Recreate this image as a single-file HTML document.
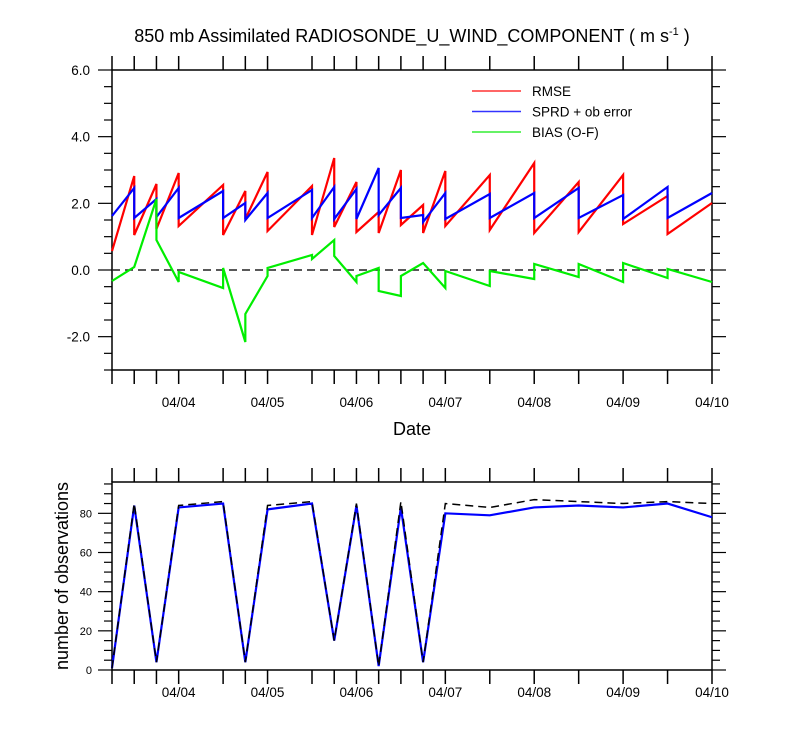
<!DOCTYPE html>
<html><head><meta charset="utf-8"><style>
body{margin:0;background:#fff;}
svg{display:block;font-family:"Liberation Sans",sans-serif;}
</style></head><body>
<svg id="chart" width="800" height="750" viewBox="0 0 800 750"></svg>
<script>
const times=[3.25,3.5,3.75,4.0,4.5,4.75,5.0,5.5,5.75,6.0,6.25,6.5,6.75,7.0,7.5,8.0,8.5,9.0,9.5,10.0];
// sawtooth values: each time has [value arriving, value leaving]
const rmseEnd=[null,2.82,2.58,2.91,2.55,2.37,2.94,2.52,3.36,2.64,1.74,3.0,1.95,2.97,2.85,3.21,2.64,2.85,2.22,2.01];
const rmseStart=[0.57,1.05,1.23,1.32,1.05,1.53,1.17,1.05,1.29,1.14,1.11,1.35,1.11,1.32,1.2,1.11,1.14,1.38,1.08,null];
const sprdEnd=[null,2.46,2.13,2.46,2.37,2.01,2.31,2.40,2.49,2.43,3.06,2.46,1.65,2.31,2.28,2.31,2.46,2.25,2.49,2.31];
const sprdStart=[1.62,1.56,1.59,1.56,1.56,1.50,1.56,1.56,1.53,1.53,1.65,1.56,1.44,1.53,1.56,1.56,1.56,1.53,1.56,null];
const biasEnd=[null,0.09,2.13,-0.36,-0.54,-2.16,-0.18,0.45,0.9,-0.36,0.06,-0.78,0.21,-0.54,-0.48,-0.27,-0.21,-0.36,-0.24,-0.36];
const biasStart=[-0.33,0.09,0.9,-0.06,0.06,-1.32,0.06,0.33,0.42,-0.18,-0.63,-0.18,0.21,-0.03,-0.03,0.18,0.18,0.21,0.03,null];
const obsUsed=[1,84,4,83,85,4,82,85,15,84,2,83,4,80,79,83,84,83,85,78];
const obsTotal=[1,85,4,84,86,4,84,86,15,85,2,86,4,85,83,87,86,85,86,85];
const yTicks=[6,4,2,0,-2];
const yTickLabels=["6.0","4.0","2.0","0.0","-2.0"];
const obsTicks=[0,20,40,60,80];
const dayTicks=[4,5,6,7,8,9,10];
const dayLabels=["04/04","04/05","04/06","04/07","04/08","04/09","04/10"];

const NS="http://www.w3.org/2000/svg";
const svg=document.getElementById('chart');
function el(tag,attrs,parent){const e=document.createElementNS(NS,tag);for(const k in attrs)e.setAttribute(k,attrs[k]);(parent||svg).appendChild(e);return e;}
const X0=112,X1=712,T0=3.25,T1=10;
const xs=t=>X0+(t-T0)/(T1-T0)*(X1-X0);
const TOP=70,BOT=370,YMAX=6,YMIN=-3;
const ys=v=>TOP+(YMAX-v)/(YMAX-YMIN)*(BOT-TOP);
const BT=482,BB=670,BMAX=96,BMIN=0;
const bs=v=>BB-(v-BMIN)/(BMAX-BMIN)*(BB-BT);

function axes(top,bot,name){
  const g=el('g',{});
  
  
  el('rect',{x:X0,y:top,width:X1-X0,height:bot-top,fill:'none',stroke:'#000','stroke-width':1.5},g);
  times.forEach(t=>{const x=xs(t);
    el('line',{x1:x,x2:x,y1:top,y2:top-14,stroke:'#000','stroke-width':1.5},g);
    el('line',{x1:x,x2:x,y1:bot,y2:bot+14,stroke:'#000','stroke-width':1.5},g);});
  return g;
}
function sawPath(ends,starts,scale){
  let d='';
  times.forEach((t,i)=>{const x=xs(t);
    if(ends[i]!==null){d+=(d?'L':'M')+x+' '+scale(ends[i]);}
    if(starts[i]!==null){d+=(d?'L':'M')+x+' '+scale(starts[i]);}
  });
  return d;
}
// title
const title=el('text',{x:412,y:42,'text-anchor':'middle','font-size':18});


title.innerHTML='850 mb Assimilated RADIOSONDE_U_WIND_COMPONENT ( m s<tspan dy="-7" font-size="11">-1</tspan><tspan dy="7"> )</tspan>';

// top panel
const g1=axes(TOP,BOT,'top-panel');
for(let v=YMIN;v<=YMAX;v+=0.5){const y=ys(v);const major=Math.abs(v%2)<1e-9;
  const L=major?14:8;
  el('line',{x1:X0,x2:X0-L,y1:y,y2:y,stroke:'#000','stroke-width':1.2},g1);
  el('line',{x1:X1,x2:X1+L,y1:y,y2:y,stroke:'#000','stroke-width':1.2},g1);}
yTicks.forEach((v,i)=>{const t=el('text',{x:90,y:ys(v)+5,'text-anchor':'end','font-size':13.5},g1);
  
  
  t.textContent=yTickLabels[i];});
dayTicks.forEach((d,i)=>{const t=el('text',{x:xs(d),y:407,'text-anchor':'middle','font-size':13.5},g1);
  
  
  t.textContent=dayLabels[i];});
const xt=el('text',{x:412,y:435,'text-anchor':'middle','font-size':18});


xt.textContent='Date';
const zl=el('line',{x1:X0,x2:X1,y1:ys(0),y2:ys(0),stroke:'#222','stroke-width':1.5,'stroke-dasharray':'8 5'});


const series=[[rmseEnd,rmseStart,'#ff0000','rmse-line'],[sprdEnd,sprdStart,'#0000ff','sprd-line'],[biasEnd,biasStart,'#00ee00','bias-line']];
series.forEach(s=>{const p=el('path',{d:sawPath(s[0],s[1],ys),fill:'none',stroke:s[2],'stroke-width':2.2,'stroke-linejoin':'miter'});
  
  });
// legend
const legendItems=[['RMSE','#ff3333'],['SPRD + ob error','#3333ff'],['BIAS (O-F)','#33ee33']];
legendItems.forEach((it,i)=>{const y=91+i*20.5;
  const g=el('g',{});
  
  
  el('line',{x1:472,x2:521,y1:y,y2:y,stroke:it[1],'stroke-width':1.5},g);
  const t=el('text',{x:532,y:y+5,'font-size':13.5},g);t.textContent=it[0];});

// bottom panel
const g2=axes(BT,BB,'bottom-panel');
for(let v=0;v<=95;v+=5){const y=bs(v);const major=v%20===0;const L=major?14:8;
  el('line',{x1:X0,x2:X0-L,y1:y,y2:y,stroke:'#000','stroke-width':1.2},g2);
  el('line',{x1:X1,x2:X1+L,y1:y,y2:y,stroke:'#000','stroke-width':1.2},g2);}
obsTicks.forEach(v=>{const t=el('text',{x:92,y:bs(v)+4,'text-anchor':'end','font-size':11},g2);
  
  
  t.textContent=v;});
dayTicks.forEach((d,i)=>{const t=el('text',{x:xs(d),y:697,'text-anchor':'middle','font-size':13.5},g2);
  
  
  t.textContent=dayLabels[i];});
const yt=el('text',{x:0,y:0,'text-anchor':'middle','font-size':18,transform:'translate(68,576) rotate(-90)'});


yt.textContent='number of observations';
const lp=d=>times.map((t,i)=>(i?'L':'M')+xs(t)+' '+bs(d[i])).join('');
const pu=el('path',{d:lp(obsUsed),fill:'none',stroke:'#0000ff','stroke-width':2.2});


const pt=el('path',{d:lp(obsTotal),fill:'none',stroke:'#000','stroke-width':1.5,'stroke-dasharray':'8 5'});


</script>
</body></html>
